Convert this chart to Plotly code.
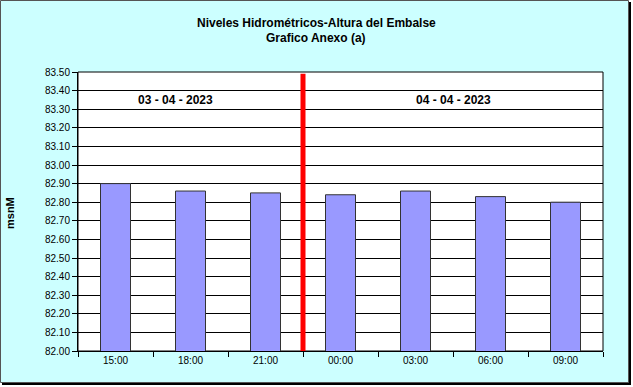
import plotly.graph_objects as go

categories = ["15:00", "18:00", "21:00", "00:00", "03:00", "06:00", "09:00"]
levels = [82.90, 82.86, 82.85, 82.84, 82.86, 82.83, 82.80]
y_ticks = [round(82.0 + 0.1 * i, 2) for i in range(16)]
y_tick_labels = [f"{v:.2f}" for v in y_ticks]
date_labels = ["03 - 04 - 2023", "04 - 04 - 2023"]
title_lines = ["Niveles Hidrométricos-Altura del Embalse", "Grafico Anexo (a)"]

W, H = 633, 387
L, R, T, B = 78, 603, 72, 351


def px(x):
    return (x - L) / (R - L)


def py(y):
    return (B - y) / (B - T)


FONT = "Arial, Liberation Sans"

fig = go.Figure()
fig.add_trace(go.Bar(
    x=categories, y=levels, width=0.4,
    marker=dict(color="#9999FF", line=dict(color="#333333", width=1)),
    hoverinfo="skip",
))

shapes = [
    # shadow
    dict(type="rect", xref="paper", yref="paper", x0=px(2), x1=px(631), y0=py(2), y1=py(385),
         fillcolor="black", line=dict(width=0), layer="below"),
    # chart area
    dict(type="rect", xref="paper", yref="paper", x0=px(0.5), x1=px(628.5), y0=py(0.5), y1=py(382.5),
         fillcolor="#CCFFFF", line=dict(color="#555555", width=1), layer="below"),
    # plot area
    dict(type="rect", xref="paper", yref="paper", x0=0, x1=1, y0=0, y1=1,
         fillcolor="white", line=dict(color="black", width=1), layer="below"),
    # separator between the two days
    dict(type="line", xref="x", yref="y", x0=2.5, x1=2.5, y0=81.99, y1=83.49,
         line=dict(color="#FF0000", width=5), layer="above"),
]

annotations = [
    dict(text=f"<b>{title_lines[0]}</b>", xref="paper", yref="paper",
         x=px(316), y=py(23), showarrow=False, font=dict(size=12, family=FONT, color="black"),
         xanchor="center", yanchor="middle"),
    dict(text=f"<b>{title_lines[1]}</b>", xref="paper", yref="paper",
         x=px(316), y=py(38), showarrow=False, font=dict(size=12, family=FONT, color="black"),
         xanchor="center", yanchor="middle"),
    dict(text=f"<b>{date_labels[0]}</b>", xref="paper", yref="paper", x=px(175), y=py(100),
         xanchor="center", yanchor="middle",
         showarrow=False, font=dict(size=12, family=FONT, color="black")),
    dict(text=f"<b>{date_labels[1]}</b>", xref="paper", yref="paper", x=px(453), y=py(100),
         xanchor="center", yanchor="middle",
         showarrow=False, font=dict(size=12, family=FONT, color="black")),
    dict(text="<b>msnM</b>", xref="paper", yref="paper", x=px(10), y=py(213), textangle=-90,
         xanchor="center", yanchor="middle",
         showarrow=False, font=dict(size=11, family=FONT, color="black")),
]

fig.update_layout(
    width=W, height=H,
    margin=dict(l=L, r=W - R, t=T, b=H - B, pad=0),
    paper_bgcolor="white", plot_bgcolor="rgba(0,0,0,0)",
    showlegend=False,
    shapes=shapes, annotations=annotations,
    font=dict(family=FONT, size=10, color="black"),
)
fig.update_xaxes(
    type="category", range=[-0.5, 6.5], showgrid=False, showline=True, linecolor="black", linewidth=1,
    ticks="outside", tickson="boundaries", ticklen=5, tickcolor="black",
    tickfont=dict(size=10), zeroline=False,
)
fig.update_yaxes(
    range=[82.0, 83.5], tickvals=y_ticks, ticktext=y_tick_labels,
    showgrid=True, gridcolor="black", gridwidth=1, showline=True, linecolor="black", linewidth=1,
    ticks="outside", ticklen=5, tickcolor="black", tickfont=dict(size=10), zeroline=False,
)

fig.write_html("out.html")
